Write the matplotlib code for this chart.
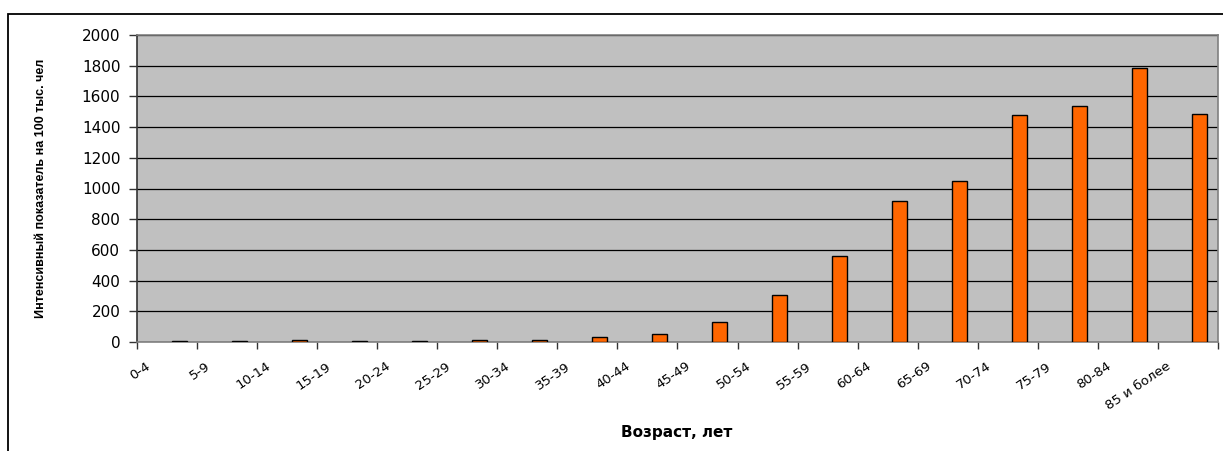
import matplotlib
matplotlib.use("Agg")
import matplotlib.pyplot as plt
from matplotlib.patches import Rectangle
from matplotlib.transforms import blended_transform_factory, ScaledTranslation
import numpy as np

# Age groups and incidence rate per 100 000 population
age_groups = ["0-4", "5-9", "10-14", "15-19", "20-24", "25-29", "30-34",
              "35-39", "40-44", "45-49", "50-54", "55-59", "60-64", "65-69",
              "70-74", "75-79", "80-84", "85 и более"]
rates = [5, 4, 12, 5, 5, 12, 12, 33, 52, 132, 303, 560, 920, 1049,
         1476, 1538, 1785, 1487]
y_ticks = [0, 200, 400, 600, 800, 1000, 1200, 1400, 1600, 1800, 2000]

W, H = 1223, 451
fig = plt.figure(figsize=(W / 100, H / 100), dpi=100)
fig.patch.set_facecolor("white")

# Outer frame around the chart object
frame = Rectangle((8 / W, -0.05), 1.2, 1 - 14 / H + 0.05,
                  transform=fig.transFigure, fill=False,
                  edgecolor="black", linewidth=1.3)
fig.add_artist(frame)

left, right, top, bottom = 137, 1218, 35, 342
ax = fig.add_axes([left / W, 1 - bottom / H, (right - left) / W, (bottom - top) / H])
ax.set_facecolor("#C0C0C0")

n = len(age_groups)
x = np.arange(n)
ax.bar(x + 0.2, rates, width=0.25, color="#FF6600",
       edgecolor="black", linewidth=1.0, zorder=3)

ax.set_xlim(-0.5, n - 0.5)
ax.set_ylim(0, 2000)
ax.set_yticks(y_ticks)
ax.set_yticklabels([str(v) for v in y_ticks], fontsize=11,
                   family="DejaVu Sans")
ax.yaxis.grid(True, color="black", linewidth=0.9, zorder=1)
ax.set_axisbelow(True)

# Category boundary tick marks on the x axis
ax.set_xticks(np.arange(n + 1) - 0.5)
ax.set_xticklabels([])
ax.tick_params(axis="x", direction="out", length=5, width=1, color="#333333")
ax.tick_params(axis="y", direction="out", length=6, width=1, color="#333333",
               pad=6)

for side in ("top", "right", "bottom"):
    ax.spines[side].set_color("#808080")
    ax.spines[side].set_linewidth(1.2)
ax.spines["left"].set_color("#333333")
ax.spines["left"].set_linewidth(1.2)

# Rotated category labels
trans = blended_transform_factory(ax.transData, ax.transAxes)
for i, lab in enumerate(age_groups):
    t = trans + ScaledTranslation(-0.18, -0.23, fig.dpi_scale_trans)
    ax.text(i, 0, lab, transform=t, rotation=34, rotation_mode="anchor",
            ha="right", va="center", fontsize=9.5, family="DejaVu Sans")

fig.text(677 / W, 1 - 432 / H, "Возраст, лет", ha="center", va="center",
         fontsize=11, fontweight="bold", family="DejaVu Sans")
fig.text(41 / W, 1 - 188 / H, "Интенсивный показатель на 100 тыс. чел",
         rotation=90, ha="center", va="center", fontsize=9,
         fontweight="bold",
         family=["Liberation Sans", "DejaVu Sans"])

fig.savefig("out.png", dpi=100, facecolor="white")
